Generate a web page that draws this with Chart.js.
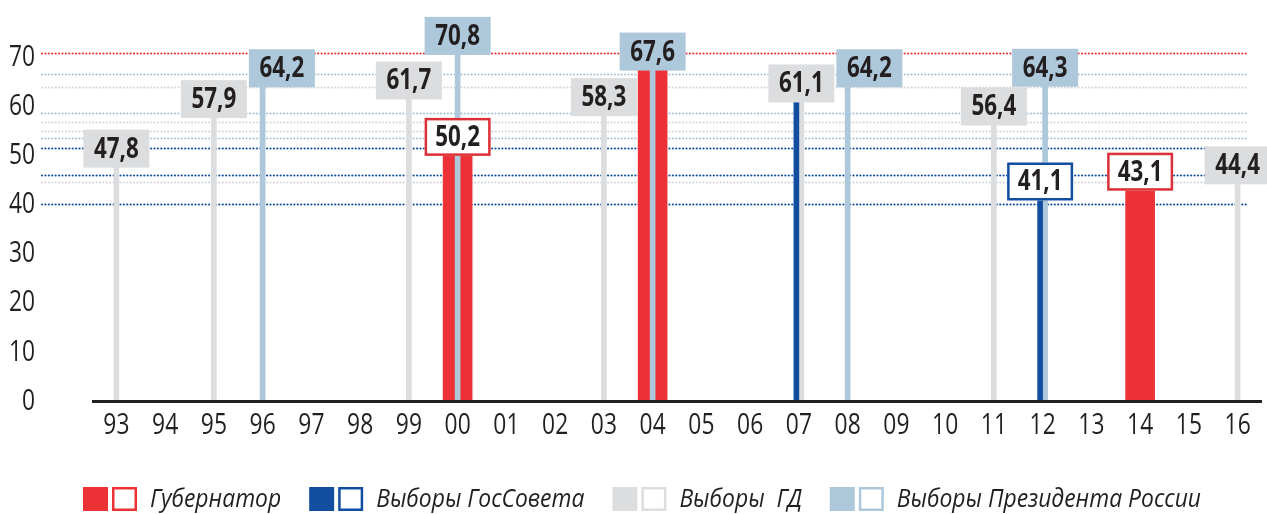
<!DOCTYPE html>
<html>
<head>
<meta charset="utf-8">
<script src="https://cdn.jsdelivr.net/npm/chart.js@4"></script>
<style>
  html, body { margin: 0; padding: 0; background: #fff; }
  #wrap { width: 1267px; height: 514px; position: relative; }
</style>
</head>
<body>
<div id="wrap"><canvas id="turnoutChart"></canvas></div>
<script>
// годы (подписи оси X)
const years = ['93','94','95','96','97','98','99','00','01','02','03','04','05','06','07','08','09','10','11','12','13','14','15','16'];

// явка, %
const governorByYear  = { '00': 50.2, '04': 67.6, '14': 43.1 };
const gosSovetByYear  = { '07': 61.1, '12': 41.1 };
const dumaByYear      = { '93': 47.8, '95': 57.9, '99': 61.7, '03': 58.3, '07': 61.1, '11': 56.4, '16': 44.4 };
const presidentByYear = { '96': 64.2, '00': 70.8, '04': 67.6, '08': 64.2, '12': 64.3 };

const yTicks = [0, 10, 20, 30, 40, 50, 60, 70];

// пунктирные уровни и к какому типу выборов они относятся
const refLineValues = [70.8, 66.4, 63.8, 58.5, 56.8, 54.9, 53.5, 51.4, 45.8, 44.5, 40];
const refLineSeries = ['gov', 'pres', 'gd', 'pres', 'gd', 'gd', 'pres', 'gs', 'gs', 'gd', 'gs'];

const legendLabels = ['Губернатор', 'Выборы ГосСовета', 'Выборы  ГД', 'Выборы Президента России'];

const FONT = '"Open Sans", "DejaVu Sans", sans-serif';
const INK = '#231f20';

const colors = {
  gov:  { bar: '#ec3236', line: '#e8333a', box: 'outline', edge: '#dd2f38' },
  gs:   { bar: '#124ea0', line: '#0f4da2', box: 'outline', edge: '#124ea0' },
  gd:   { bar: '#dcdddf', line: '#d6d7d9', box: 'solid',   edge: '#dcdddf' },
  pres: { bar: '#aec8db', line: '#a6c3da', box: 'solid',   edge: '#aec8db' }
};
const seriesKeys = ['gov', 'gs', 'gd', 'pres'];

const toSeries = (byYear) => years.map(y => (byYear[y] !== undefined ? byYear[y] : null));
const fmt = (v) => v.toFixed(1).replace('.', ',');

// узкий шрифт: сжимаем по горизонтали
function narrowText(ctx, text, x, y, sx) {
  ctx.save();
  ctx.translate(x, y);
  ctx.scale(sx, 1);
  ctx.fillText(text, 0, 0);
  ctx.restore();
}

const refLinesPlugin = {
  id: 'refLines',
  beforeDatasetsDraw(chart) {
    const { ctx, chartArea, scales } = chart;
    ctx.save();
    ctx.lineWidth = 2.2;
    ctx.lineCap = 'round';
    ctx.setLineDash([0.01, 3.4]);
    refLineValues.forEach((v, i) => {
      const y = Math.round(scales.y.getPixelForValue(v)) + 0.5;
      ctx.strokeStyle = colors[refLineSeries[i]].line;
      ctx.beginPath();
      ctx.moveTo(chartArea.left - 50, y);
      ctx.lineTo(chartArea.right - 14, y);
      ctx.stroke();
    });
    ctx.restore();
  }
};

const axesPlugin = {
  id: 'narrowAxes',
  afterDatasetsDraw(chart) {
    const { ctx, chartArea, scales } = chart;
    ctx.save();
    // базовая линия
    ctx.strokeStyle = INK;
    ctx.lineWidth = 3;
    ctx.beginPath();
    ctx.moveTo(chartArea.left, chartArea.bottom + 1.5);
    ctx.lineTo(chartArea.right, chartArea.bottom + 1.5);
    ctx.stroke();

    ctx.fillStyle = INK;
    ctx.font = '30px ' + FONT;
    ctx.textBaseline = 'middle';
    ctx.textAlign = 'center';
    years.forEach((lab, i) => {
      narrowText(ctx, lab, scales.x.getPixelForTick(i), chartArea.bottom + 25, 0.76);
    });
    ctx.textAlign = 'right';
    yTicks.forEach(v => {
      narrowText(ctx, String(v), chartArea.left - 57, scales.y.getPixelForValue(v) + 1, 0.76);
    });
    ctx.restore();
  }
};

const valueLabelsPlugin = {
  id: 'valueLabels',
  afterDatasetsDraw(chart) {
    const { ctx } = chart;
    const datasets = chart.data.datasets;
    const w = 66, h = 38;

    // собираем подписи
    const boxes = [];
    datasets.forEach((ds, di) => {
      const meta = chart.getDatasetMeta(di);
      ds.data.forEach((v, i) => {
        if (v === null) return;
        // одинаковое значение у более позднего ряда — подпись одна
        if (datasets.some((other, dj) => dj > di && other.data[i] === v)) return;
        const bar = meta.data[i];
        boxes.push({ v, key: seriesKeys[di], x: bar.x - w / 2, y: bar.y + 2 - h });
      });
    });
    // раздвигаем пересекающиеся подписи вправо
    boxes.sort((a, b) => a.x - b.x);
    boxes.forEach((b, k) => {
      for (let j = 0; j < k; j++) {
        const p = boxes[j];
        const overlapY = b.y < p.y + h && p.y < b.y + h;
        if (overlapY && b.x < p.x + w && b.x > p.x) b.x = p.x + w + 2;
      }
    });

    ctx.save();
    ctx.font = 'bold 28px ' + FONT;
    ctx.textAlign = 'center';
    ctx.textBaseline = 'middle';
    boxes.forEach(b => {
      const c = colors[b.key];
      if (c.box === 'solid') {
        ctx.fillStyle = c.edge;
        ctx.fillRect(b.x, b.y, w, h);
      } else {
        ctx.fillStyle = '#fff';
        ctx.fillRect(b.x, b.y, w, h);
        ctx.strokeStyle = c.edge;
        ctx.lineWidth = 2.5;
        ctx.strokeRect(b.x + 1.25, b.y + 1.25, w - 2.5, h - 2.5);
      }
      ctx.fillStyle = INK;
      narrowText(ctx, fmt(b.v), b.x + w / 2, b.y + h / 2 + 1, 0.8);
    });
    ctx.restore();
  }
};

const legendPlugin = {
  id: 'squareLegend',
  afterDraw(chart) {
    const { ctx, chartArea } = chart;
    const cy = 499;
    const sq = 25;
    const sx = 0.88;
    ctx.save();
    ctx.font = 'italic 26px ' + FONT;
    ctx.textBaseline = 'middle';
    ctx.textAlign = 'left';
    let x = chartArea.left - 9;
    legendLabels.forEach((label, i) => {
      const c = colors[seriesKeys[i]];
      ctx.fillStyle = c.bar;
      ctx.fillRect(x, cy - 12, sq, 24);
      ctx.strokeStyle = c.bar;
      ctx.lineWidth = 2.5;
      ctx.strokeRect(x + sq + 4 + 1.25, cy - 12 + 1.25, sq - 2.5, 24 - 2.5);
      x += sq * 2 + 4 + 13;
      ctx.fillStyle = INK;
      narrowText(ctx, label, x, cy + 1, sx);
      x += ctx.measureText(label).width * sx + 28;
    });
    ctx.restore();
  }
};

const thin = 5;

new Chart(document.getElementById('turnoutChart'), {
  type: 'bar',
  data: {
    labels: years,
    datasets: [
      {
        label: legendLabels[0],
        data: toSeries(governorByYear),
        backgroundColor: colors.gov.bar,
        barThickness: 29,
        grouped: false,
        order: 1
      },
      {
        label: legendLabels[1],
        data: toSeries(gosSovetByYear),
        backgroundColor: colors.gs.bar,
        barThickness: thin,
        skipNull: true,
        order: 0
      },
      {
        label: legendLabels[2],
        data: toSeries(dumaByYear),
        backgroundColor: colors.gd.bar,
        barThickness: thin,
        skipNull: true,
        order: 0
      },
      {
        label: legendLabels[3],
        data: toSeries(presidentByYear),
        backgroundColor: colors.pres.bar,
        barThickness: thin,
        skipNull: true,
        order: 0
      }
    ]
  },
  options: {
    responsive: true,
    maintainAspectRatio: false,
    animation: false,
    layout: {
      padding: { top: 47, bottom: 114, left: 92, right: 5 }
    },
    plugins: {
      legend: { display: false },
      tooltip: { enabled: false }
    },
    scales: {
      x: { display: false },
      y: { display: false, min: 0, max: 72 }
    }
  },
  plugins: [refLinesPlugin, axesPlugin, valueLabelsPlugin, legendPlugin]
});
</script>
</body>
</html>
